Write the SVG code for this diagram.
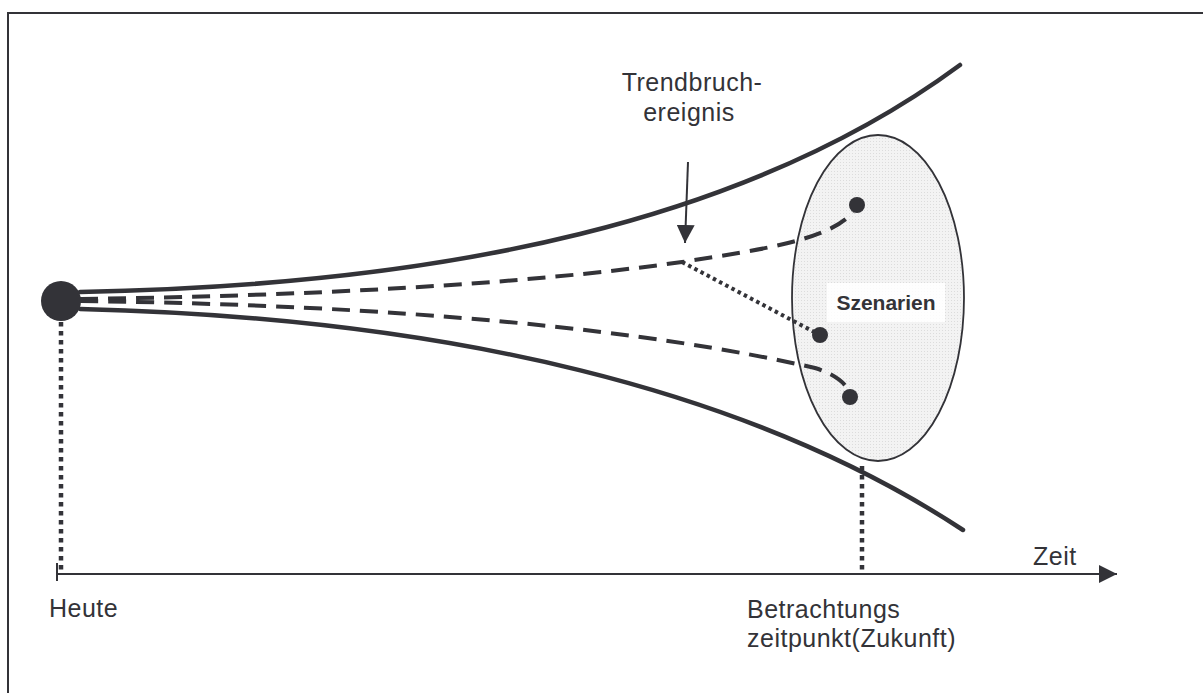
<svg xmlns="http://www.w3.org/2000/svg" width="1203" height="693" viewBox="0 0 1203 693">
<defs>
<pattern id="dots" width="3" height="3" patternUnits="userSpaceOnUse">
<rect width="3" height="3" fill="#f3f3f3"/>
<rect width="1" height="1" fill="#dcdcdc"/>
</pattern>
<marker id="arrBig" viewBox="0 0 10 10" refX="10" refY="5" markerWidth="18" markerHeight="18" markerUnits="userSpaceOnUse" orient="auto">
<path d="M0,0 L10,5 L0,10 Z" fill="#333338"/>
</marker>
</defs>
<style>
.t{font-family:"Liberation Sans",Arial,sans-serif;font-size:25px;fill:#333338;letter-spacing:0.5px}
.b{font-family:"Liberation Sans",Arial,sans-serif;font-size:21px;font-weight:bold;fill:#333338}
.solid{fill:none;stroke:#333338;stroke-width:4.5;stroke-linecap:round}
.dash{fill:none;stroke:#333338;stroke-width:4;stroke-dasharray:18 10}
.dotv{fill:none;stroke:#333338;stroke-width:4.5;stroke-dasharray:4.5 4.5}
.dot{fill:#333338}
</style>
<rect width="1203" height="693" fill="#ffffff"/>
<g id="frame"><path d="M8,693 L8,13 L1203,13" fill="none" stroke="#333338" stroke-width="2"/></g>

<g id="scenario-ellipse">
<ellipse cx="878" cy="298" rx="86" ry="163" fill="url(#dots)" stroke="#333338" stroke-width="1.8"/>
</g>

<g id="connectors">
<path class="solid" d="M80,292 C450,285 750,220 960,65"/>
<path class="solid" d="M80,309 C450,318 750,390 963,530"/>
<path class="dash" d="M80,299 C300,296 520,285 682,262 C760,250 830,240 853,212"/>
<path class="dash" d="M80,301 C400,305 650,330 815,368 C835,374 848,385 849,393"/>
<path d="M682,262 L818,334" fill="none" stroke="#333338" stroke-width="4" stroke-dasharray="3.5 3.5"/>
<path d="M688,162 L685,243" fill="none" stroke="#333338" stroke-width="2" marker-end="url(#arrBig)"/>
<path class="dotv" d="M61,322 L61,574"/>
<path class="dotv" d="M862,466 L862,574"/>
<path d="M57,574 L1117,574" fill="none" stroke="#333338" stroke-width="2" marker-end="url(#arrBig)"/>
<path d="M57,563 L57,581" fill="none" stroke="#333338" stroke-width="2"/>
</g>

<g id="start"><circle class="dot" cx="61" cy="301" r="20"/></g>
<g id="s1"><circle class="dot" cx="857" cy="205" r="8"/></g>
<g id="s2"><circle class="dot" cx="820" cy="335" r="8"/></g>
<g id="s3"><circle class="dot" cx="850" cy="397" r="8"/></g>

<g id="szenarien">
<rect x="827" y="283" width="118" height="39" fill="#ffffff" opacity="0.85"/>
<text class="b" x="886" y="310" text-anchor="middle">Szenarien</text>
</g>
<g id="trendbruch">
<text class="t" x="692" y="91" text-anchor="middle">Trendbruch-</text>
<text class="t" x="689" y="121" text-anchor="middle">ereignis</text>
</g>
<g id="heute"><text class="t" x="49" y="617">Heute</text></g>
<g id="zeit"><text class="t" x="1033" y="565">Zeit</text></g>
<g id="betrachtung">
<text class="t" x="747" y="618">Betrachtungs</text>
<text class="t" x="747" y="647">zeitpunkt(Zukunft)</text>
</g>
</svg>
